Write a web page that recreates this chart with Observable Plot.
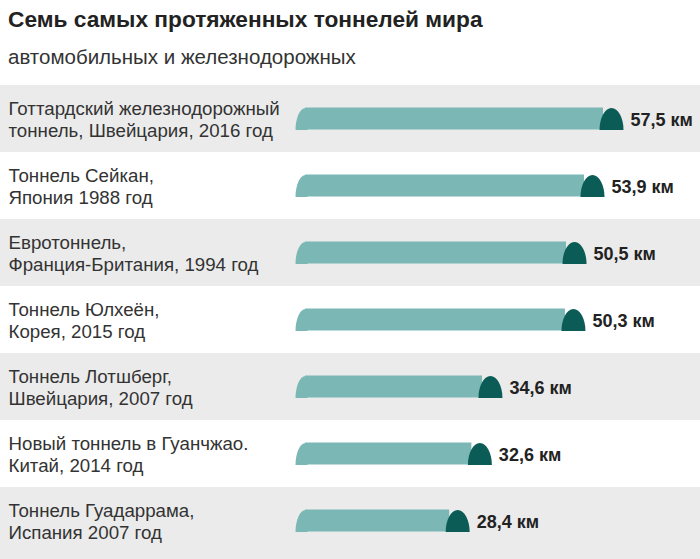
<!DOCTYPE html>
<html>
<head>
<meta charset="utf-8">
<script src="https://cdn.jsdelivr.net/npm/d3@7"></script>
<script src="https://cdn.jsdelivr.net/npm/@observablehq/plot@0.6"></script>
<style>
  html, body { margin: 0; padding: 0; background: #fff; }
  #wrap { position: relative; width: 700px; height: 559px; overflow: hidden; font-family: "Liberation Sans", Arial, sans-serif; }
  #title { position: absolute; left: 8px; top: 8px; font-size: 22.7px; line-height: 1; font-weight: bold; color: #222; white-space: nowrap; }
  #subtitle { position: absolute; left: 8px; top: 46.5px; font-size: 20.5px; line-height: 1; color: #333; white-space: nowrap; }
  #chart { position: absolute; left: 0; top: 84px; }
</style>
</head>
<body>
<div id="wrap">
  <div id="title">Семь самых протяженных тоннелей мира</div>
  <div id="subtitle">автомобильных и железнодорожных</div>
  <div id="chart"></div>
</div>
<script>
const names = [
  "Готтардский железнодорожный\nтоннель, Швейцария, 2016 год",
  "Тоннель Сейкан,\nЯпония 1988 год",
  "Евротоннель,\nФранция-Британия, 1994 год",
  "Тоннель Юлхеён,\nКорея, 2015 год",
  "Тоннель Лотшберг,\nШвейцария, 2007 год",
  "Новый тоннель в Гуанчжао.\nКитай, 2014 год",
  "Тоннель Гуадаррама,\nИспания 2007 год"
];
const lengths = [57.5, 53.9, 50.5, 50.3, 34.6, 32.6, 28.4];

const data = names.map((name, i) => ({name, v: lengths[i], i}));
const xDomain = [-55.8, 76.6];

const light = "#7bb8b5";
const dark = "#0b5c57";
const grey = "#ebebeb";

// dome-shaped end cap (drawn to the right of the bar end)
const rightCap = {
  draw(ctx) {
    const w = 24, h = 11, k = 0.5523;
    ctx.moveTo(0, h);
    ctx.bezierCurveTo(0, h - 2 * h * k, w / 2 - (w / 2) * k, -h, w / 2, -h);
    ctx.bezierCurveTo(w / 2 + (w / 2) * k, -h, w, h - 2 * h * k, w, h);
    ctx.closePath();
  }
};
// rounded tunnel entrance at the start of the bar
const leftCap = {
  draw(ctx) {
    const w = 10, h = 11, k = 0.5523;
    ctx.moveTo(0, h);
    ctx.bezierCurveTo(0, h - 2 * h * k, w - w * k, -h, w, -h);
    ctx.lineTo(w + 2, -h);
    ctx.lineTo(w + 2, h);
    ctx.closePath();
  }
};

const chart = Plot.plot({
  width: 700,
  height: 475,
  marginTop: 0,
  marginBottom: 5,
  marginLeft: 0,
  marginRight: 0,
  x: {domain: xDomain, axis: null},
  y: {domain: names, axis: null, padding: 0},
  style: {fontFamily: "Liberation Sans, Arial, sans-serif"},
  marks: [
    Plot.barX(data.filter(d => d.i % 2 === 0), {
      x1: () => xDomain[0], x2: () => xDomain[1], y: "name", fill: grey
    }),
    Plot.barX(data.filter(d => d.i === names.length - 1), {
      x1: () => xDomain[0], x2: () => xDomain[1], y: "name", fill: grey, insetBottom: -6
    }),
    Plot.barX(data, {
      x1: 0, x2: "v", y: "name", fill: light,
      insetTop: 22.5, insetBottom: 22.5, insetLeft: 10, insetRight: -4
    }),
    Plot.dot(data, {x: () => 0, y: "name", symbol: leftCap, r: 5, fill: light, stroke: null}),
    Plot.dot(data, {x: "v", y: "name", symbol: rightCap, r: 5, fill: dark, stroke: null}),
    Plot.text(data, {
      x: "v", y: "name", dx: 31, dy: 1,
      text: d => String(d.v).replace(".", ",") + " км",
      textAnchor: "start", fontWeight: "bold", fontSize: 18, fill: "#222"
    }),
    Plot.text(data, {
      x: () => xDomain[0], y: "name", dx: 8,
      text: "name", textAnchor: "start", lineAnchor: "middle",
      lineHeight: 1.16, fontSize: 18.7, fill: "#333"
    })
  ]
});
document.getElementById("chart").appendChild(chart);
</script>
</body>
</html>
